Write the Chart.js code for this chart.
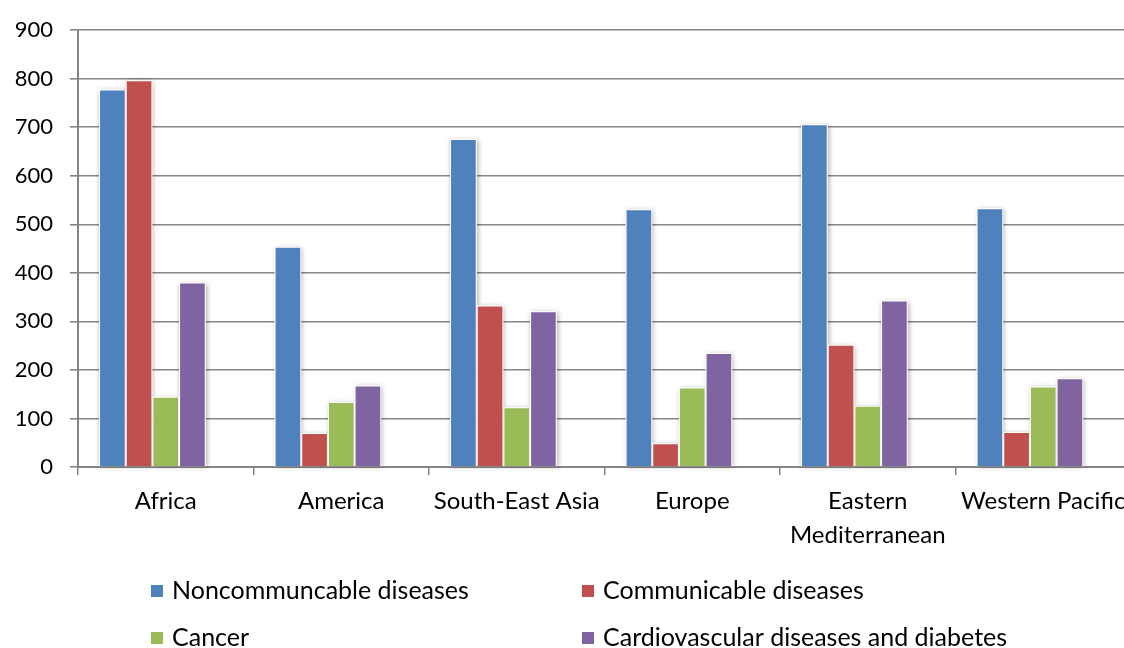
<!DOCTYPE html>
<html>
<head>
<meta charset="utf-8">
<script src="https://cdn.jsdelivr.net/npm/chart.js@4/dist/chart.umd.min.js"></script>
<style>
  html, body { margin: 0; padding: 0; background: #fff; overflow: hidden; }
  #wrap { position: absolute; left: 0; top: 0; width: 1136px; height: 648px; }
</style>
</head>
<body>
<div id="wrap"><canvas id="c" width="1136" height="648"></canvas></div>
<script>
// Deaths per 100 000 by WHO region
const regions = ['Africa', 'America', 'South-East Asia', 'Europe', ['Eastern', 'Mediterranean'], 'Western Pacific'];
const noncommunicable = [778, 454, 676, 531, 706, 533];
const communicable    = [797, 70, 333, 49, 252, 72];
const cancer          = [145, 134, 123, 164, 126, 166];
const cardioDiabetes  = [380, 168, 321, 235, 343, 183];
const yTicks = [0, 100, 200, 300, 400, 500, 600, 700, 800, 900];

const FONT = 'Lato, "Open Sans", sans-serif';
const GRID = '#868686';

// soft drop shadow behind each bar
const barShadow = {
  id: 'barShadow',
  beforeDatasetsDraw(chart) {
    const ctx = chart.ctx;
    ctx.save();
    ctx.shadowColor = 'rgba(0,0,0,0.35)';
    ctx.shadowBlur = 5;
    ctx.shadowOffsetX = 1;
    ctx.shadowOffsetY = 1;
    ctx.fillStyle = '#ffffff';
    chart.data.datasets.forEach((ds, i) => {
      const meta = chart.getDatasetMeta(i);
      meta.data.forEach(bar => {
        const p = bar.getProps(['x', 'y', 'base', 'width'], true);
        if (p.y == null || isNaN(p.y)) return;
        ctx.fillRect(p.x - p.width / 2, p.y, p.width, p.base - p.y);
      });
    });
    ctx.restore();
  }
};

// two-column legend under the axis
const gridLegend = {
  id: 'gridLegend',
  afterDraw(chart) {
    const ctx = chart.ctx;
    const a = chart.chartArea;
    const items = chart.data.datasets.filter(d => d.label);
    const colX = [a.left + 73, a.left + 504];
    const rowY = [591, 638];
    ctx.save();
    ctx.font = '25px ' + FONT;
    ctx.textBaseline = 'middle';
    ctx.textAlign = 'left';
    items.forEach((d, i) => {
      const x = colX[i % 2], y = rowY[Math.floor(i / 2)];
      ctx.fillStyle = d.backgroundColor;
      ctx.fillRect(x, y - 6, 12, 12);
      ctx.fillStyle = '#000';
      ctx.fillText(d.label, x + 21, y);
    });
    ctx.restore();
  }
};

const common = { borderColor: 'rgba(255,255,255,0.9)', borderWidth: 1 };

new Chart(document.getElementById('c'), {
  type: 'bar',
  data: {
    labels: regions,
    datasets: [
      { label: 'Noncommuncable diseases', data: noncommunicable, backgroundColor: '#4F81BD', ...common },
      { label: 'Communicable diseases', data: communicable, backgroundColor: '#C0504D', ...common },
      { label: 'Cancer', data: cancer, backgroundColor: '#9BBB59', ...common },
      { label: 'Cardiovascular diseases and diabetes', data: cardioDiabetes, backgroundColor: '#8064A2', ...common },
      { label: '', data: regions.map(() => null), backgroundColor: 'rgba(0,0,0,0)' }
    ]
  },
  options: {
    responsive: false,
    animation: false,
    events: [],
    categoryPercentage: 0.76,
    barPercentage: 1,
    layout: { padding: { left: 0, right: 5, top: 28, bottom: 0 } },
    plugins: { legend: { display: false }, tooltip: { enabled: false } },
    scales: {
      x: {
        offset: true,
        grid: { display: true, drawOnChartArea: false, drawTicks: true, tickLength: 8, color: GRID, lineWidth: 1.5, offset: true },
        border: { display: true, color: GRID, width: 2 },
        ticks: { color: '#000', font: { family: FONT, size: 24, lineHeight: 1.42 }, padding: 9, maxRotation: 0, autoSkip: false },
        afterFit(s) { s.height = 181; }
      },
      y: {
        min: 0, max: 900,
        afterBuildTicks(s) { s.ticks = yTicks.map(v => ({ value: v })); },
        grid: { color: GRID, lineWidth: 1.6, tickLength: 8 },
        border: { display: true, color: GRID, width: 2 },
        ticks: { color: '#000', font: { family: FONT, size: 22 }, padding: 17 },
        afterFit(s) { s.width = 78; }
      }
    }
  },
  plugins: [barShadow, gridLegend]
});
</script>
</body>
</html>
